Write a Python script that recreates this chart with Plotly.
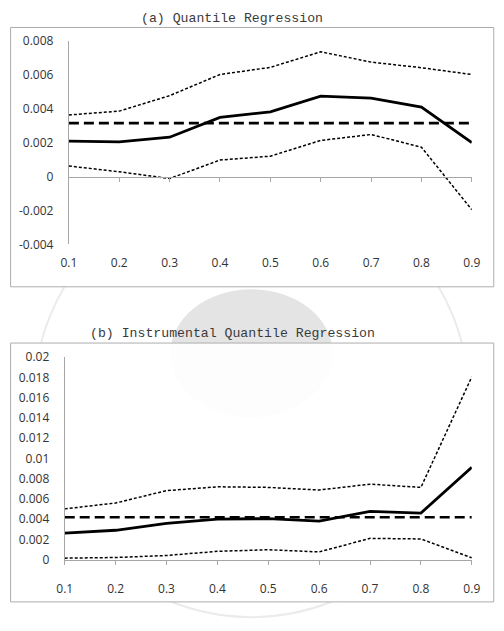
import plotly.graph_objects as go

# ---------------- data ----------------
quantiles = [0.1, 0.2, 0.3, 0.4, 0.5, 0.6, 0.7, 0.8, 0.9]
x_labels = ["0.1", "0.2", "0.3", "0.4", "0.5", "0.6", "0.7", "0.8", "0.9"]

# (a) Quantile Regression
qr_coef = [0.00210, 0.00205, 0.00233, 0.00350, 0.00383, 0.00475, 0.00463, 0.00411, 0.00201]
qr_upper = [0.00364, 0.00387, 0.00478, 0.00603, 0.00645, 0.00737, 0.00676, 0.00643, 0.00603]
qr_lower = [0.00063, 0.00029, -0.00011, 0.00098, 0.00121, 0.00214, 0.00249, 0.00174, -0.00195]
qr_ols = 0.00316

# (b) Instrumental Quantile Regression
iqr_coef = [0.00262, 0.00291, 0.00358, 0.00400, 0.00406, 0.00381, 0.00477, 0.00461, 0.00912]
iqr_upper = [0.00502, 0.00560, 0.00682, 0.00720, 0.00714, 0.00688, 0.00746, 0.00714, 0.01805]
iqr_lower = [0.00016, 0.00022, 0.00042, 0.00083, 0.00099, 0.00077, 0.00211, 0.00205, 0.00019]
iqr_ols = 0.00419

ya_ticks = [-0.004, -0.002, 0, 0.002, 0.004, 0.006, 0.008]
ya_labels = ["-0.004", "-0.002", "0", "0.002", "0.004", "0.006", "0.008"]
yb_ticks = [0, 0.002, 0.004, 0.006, 0.008, 0.01, 0.012, 0.014, 0.016, 0.018, 0.02]
yb_labels = ["0", "0.002", "0.004", "0.006", "0.008", "0.01", "0.012", "0.014", "0.016", "0.018", "0.02"]

title_a = "(a) Quantile Regression"
title_b = "(b) Instrumental Quantile Regression"

# ---------------- layout helpers ----------------
W, H = 504, 631


def px(v):
    return v / W


def py(v):
    return 1 - v / H


AX_COLOR = "#A6A6A6"
TICK_FONT = dict(family="Open Sans", size=12, color="#333333")
TITLE_FONT = dict(family="Liberation Mono, DejaVu Sans Mono, monospace", size=13.2, color="#3a3a3a")

fig = go.Figure()


def add_panel(xa, ya, coef, upper, lower, ols):
    fig.add_trace(go.Scatter(x=quantiles, y=upper, mode="lines", xaxis=xa, yaxis=ya,
                             line=dict(color="black", width=1.5, dash="3px,2px"), showlegend=False))
    fig.add_trace(go.Scatter(x=quantiles, y=lower, mode="lines", xaxis=xa, yaxis=ya,
                             line=dict(color="black", width=1.5, dash="3px,2px"), showlegend=False))
    fig.add_trace(go.Scatter(x=quantiles, y=[ols] * len(quantiles), mode="lines", xaxis=xa, yaxis=ya,
                             line=dict(color="black", width=2.6, dash="10px,5px"), showlegend=False))
    fig.add_trace(go.Scatter(x=quantiles, y=coef, mode="lines", xaxis=xa, yaxis=ya,
                             line=dict(color="black", width=2.8), showlegend=False))


add_panel("x", "y", qr_coef, qr_upper, qr_lower, qr_ols)
add_panel("x2", "y2", iqr_coef, iqr_upper, iqr_lower, iqr_ols)

ya_dom = [py(242), py(33)]
ya_rng = [-0.004, 0.008]
zero_pos = ya_dom[0] + (0 - ya_rng[0]) / (ya_rng[1] - ya_rng[0]) * (ya_dom[1] - ya_dom[0])

fig.update_layout(
    width=W, height=H,
    margin=dict(l=0, r=0, t=0, b=0),
    font=dict(family="Open Sans", color="#333333"),
    paper_bgcolor="white", plot_bgcolor="rgba(0,0,0,0)",
    xaxis=dict(domain=[px(63), px(480)], range=[0.1, 0.9], anchor="y",
               tickvals=quantiles, ticktext=x_labels, tickfont=TICK_FONT,
               showline=False, ticks="", showgrid=False, zeroline=False,
               ticklabelstandoff=10),
    xaxis3=dict(overlaying="x", range=[0.1, 0.9], anchor="free", position=zero_pos,
                tickvals=quantiles, showticklabels=False, showline=True,
                linecolor=AX_COLOR, linewidth=1, ticks="outside", ticklen=4,
                tickcolor=AX_COLOR, tickwidth=1, showgrid=False, zeroline=False),
    yaxis=dict(domain=ya_dom, range=ya_rng, anchor="x",
               tickvals=ya_ticks, ticktext=ya_labels, tickfont=TICK_FONT,
               showline=True, linecolor=AX_COLOR, linewidth=1, ticks="",
               showgrid=False, zeroline=False, ticklabelstandoff=12),
    xaxis2=dict(domain=[px(58.7), px(480)], range=[0.1, 0.9], anchor="y2",
                tickvals=quantiles, ticktext=x_labels, tickfont=TICK_FONT,
                showline=True, linecolor=AX_COLOR, linewidth=1, ticks="outside",
                ticklen=4, tickcolor=AX_COLOR, showgrid=False, zeroline=False,
                ticklabelstandoff=14),
    yaxis2=dict(domain=[py(566), py(357.7)], range=[0, 0.02], anchor="x2",
                tickvals=yb_ticks, ticktext=yb_labels, tickfont=TICK_FONT,
                showline=True, linecolor=AX_COLOR, linewidth=1, ticks="",
                showgrid=False, zeroline=False, ticklabelstandoff=12),
)

# dummy trace so xaxis3 renders
fig.add_trace(go.Scatter(x=[None], y=[None], xaxis="x3", yaxis="y", showlegend=False))

shapes = [
    # faint watermark seal
    dict(type="circle", xref="paper", yref="paper", layer="below",
         x0=px(27), x1=px(477), y0=py(625), y1=py(175),
         line=dict(color="#EBEBEB", width=2), fillcolor="rgba(0,0,0,0)"),
    dict(type="circle", xref="paper", yref="paper", layer="below",
         x0=px(168), x1=px(336), y0=py(420), y1=py(288),
         line=dict(width=0), fillcolor="#E4E4E4"),
    # panel boxes
    dict(type="rect", xref="paper", yref="paper", layer="below",
         x0=px(2.7), x1=px(502.7), y0=py(285.5), y1=py(19),
         line=dict(color="#ADADAD", width=1), fillcolor="rgba(255,255,255,0.93)"),
    dict(type="rect", xref="paper", yref="paper", layer="below",
         x0=px(2.7), x1=px(502.7), y0=py(609.3), y1=py(343.3),
         line=dict(color="#ADADAD", width=1), fillcolor="rgba(255,255,255,0.93)"),
]
fig.update_layout(shapes=shapes)

fig.add_annotation(text=title_a, xref="paper", yref="paper", x=px(232.3), y=py(10),
                   showarrow=False, font=TITLE_FONT, xanchor="center", yanchor="middle")
fig.add_annotation(text=title_b, xref="paper", yref="paper", x=px(232.5), y=py(333.3),
                   showarrow=False, font=TITLE_FONT, xanchor="center", yanchor="middle")

fig.write_html("out.html")
